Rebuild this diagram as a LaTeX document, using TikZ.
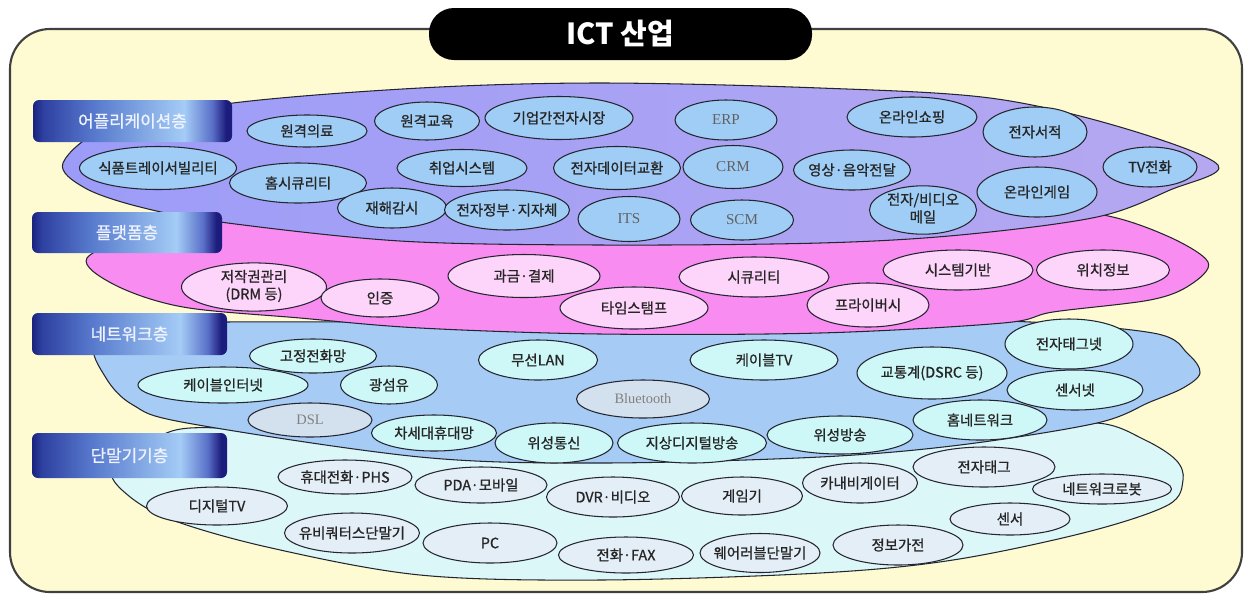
\documentclass[tikz,border=0pt]{standalone}
\usepackage{fontspec}
\setmainfont{Noto Sans CJK KR}
\newfontfamily\krb{Noto Sans CJK KR}[FakeBold=0.9]
\newfontfamily\serifx{Liberation Serif}
\usetikzlibrary{shapes.geometric}
\definecolor{framefill}{HTML}{FEFBD3}
\definecolor{frameline}{HTML}{404040}
\definecolor{appL}{HTML}{9C9CF8}
\definecolor{appR}{HTML}{B6A8F0}
\definecolor{platcol}{HTML}{F98CF1}
\definecolor{netcol}{HTML}{A6CBF4}
\definecolor{termcol}{HTML}{DBF7F8}
\definecolor{appell}{HTML}{A0CDF6}
\definecolor{platell}{HTML}{FDD4FA}
\definecolor{netell}{HTML}{CDF8F7}
\definecolor{grayell}{HTML}{D3E0EE}
\definecolor{termell}{HTML}{E3EEF7}
\definecolor{edgecol}{HTML}{252530}
\definecolor{lbA}{HTML}{1A237E}
\definecolor{lbB}{HTML}{2E40A0}
\definecolor{lbC}{HTML}{5678CC}
\definecolor{lbD}{HTML}{A4CCF6}
\definecolor{lbE}{HTML}{5A70C8}
\definecolor{lbF}{HTML}{1C1C7C}
\definecolor{lbtext}{HTML}{EEF3FF}
\pgfdeclarehorizontalshading{labelshade}{100bp}{color(0bp)=(lbA); color(25bp)=(lbA); color(27.5bp)=(lbB); color(40bp)=(lbC); color(63bp)=(lbD); color(70bp)=(lbE); color(73.5bp)=(lbF); color(75bp)=(lbF); color(100bp)=(lbF)}
\newcommand\ellnode[6]{\node[#2, minimum width=#4*0.02cm, minimum height=#5*0.02cm] (#1) at #3 {\makebox[0pt]{#6}};}
\newcommand\twolines[2]{\begin{tabular}{@{}c@{}}#1\\[0.5pt]#2\end{tabular}}
\begin{document}
\begin{tikzpicture}[x=0.02cm,y=-0.02cm,
  layerline/.style={draw=edgecol, line width=0.6pt},
  ellbase/.style={ellipse, draw=edgecol, line width=0.6pt, inner sep=0pt, text=black!85,
    font=\krb\fontsize{8.2pt}{9pt}\selectfont},
  aell/.style={ellbase, fill=appell},
  pell/.style={ellbase, fill=platell},
  nell/.style={ellbase, fill=netell},
  gell/.style={ellbase, fill=grayell, text=black!50, font=\serifx\fontsize{8.2pt}{9pt}\selectfont},
  tell/.style={ellbase, fill=termell},
  labelbox/.style={shade, shading=labelshade, rounded corners=0.12cm, inner sep=0pt,
    text=lbtext, font=\krb\fontsize{9.6pt}{10pt}\selectfont},
]
\useasboundingbox (0,0) rectangle (1250,596);
% frame
\draw[draw=frameline, line width=1.2pt, fill=framefill, rounded corners=0.8cm] (10,29) rectangle (1242,592);
% terminal layer
\draw[layerline, fill=termcol]
  plot[smooth cycle, tension=0.55] coordinates {(113,468) (150,442) (190,428) (300,432) (500,440) (800,445) (1000,430) (1097,423) (1145,440) (1176,460) (1183,480) (1168,505) (1087,532) (953,560) (820,573) (600,580) (420,575) (267,547) (167,518) (122,490)};
% network layer
\draw[layerline, fill=netcol]
  plot[smooth cycle, tension=0.55] coordinates {(96,343) (160,324) (400,322) (800,324) (1003,321) (1153,333) (1188,354) (1200,373) (1183,388) (1150,402) (1097,423) (960,445) (820,457) (600,463) (420,457) (187,423) (133,405) (106,378)};
% platform layer
\draw[layerline, fill=platcol]
  plot[smooth cycle, tension=0.55] coordinates {(87,258) (150,232) (240,220) (500,225) (800,225) (1000,212) (1097,214) (1165,235) (1208,262) (1190,285) (1150,300) (1053,312) (1003,323) (820,333) (600,334) (420,328) (300,318) (183,307) (115,285)};
% application layer
\draw[layerline, left color=appL, right color=appR]
  plot[smooth cycle, tension=0.55] coordinates {(63,163) (110,127) (233,103) (420,88) (600,83) (820,88) (990,98) (1120,127) (1218,165) (1170,190) (1097,217) (960,235) (820,243) (600,245) (400,241) (220,222) (140,207) (85,188)};
% title
\node[fill=black, rounded corners=0.5cm, minimum width=383*0.02cm, minimum height=52*0.02cm, inner sep=0pt,
  text=white, font=\bfseries\fontsize{16.5pt}{18pt}\selectfont] (title) at (620.5,34) {ICT 산업};
% layer labels
\node[labelbox, minimum width=199*0.02cm, minimum height=42*0.02cm] (L1) at (132.5,121) {어플리케이션층};
\node[labelbox, minimum width=190*0.02cm, minimum height=41*0.02cm] (L2) at (127,232.5) {플랫폼층};
\node[labelbox, minimum width=195*0.02cm, minimum height=42*0.02cm] (L3) at (129.5,334) {네트워크층};
\node[labelbox, minimum width=195*0.02cm, minimum height=45*0.02cm] (L4) at (129.5,455.5) {단말기기층};
% application ellipses
\ellnode{a1}{aell}{(307,131)}{120}{32}{원격의료}
\ellnode{a2}{aell}{(427,121)}{105}{38}{원격교육}
\ellnode{a3}{aell}{(559,118)}{148}{43}{기업간전자시장}
\ellnode{a4}{aell}{(726,120)}{102}{40}{\serifx\fontsize{8.6pt}{9pt}\selectfont\color{black!62}ERP}
\ellnode{a5}{aell}{(912,117)}{130}{40}{온라인쇼핑}
\ellnode{a6}{aell}{(1035,132)}{104}{50}{전자서적}
\ellnode{a7}{aell}{(158,168)}{157}{43}{식품트레이서빌리티}
\ellnode{a8}{aell}{(298,183)}{137}{40}{홈시큐리티}
\ellnode{a9}{aell}{(462,168)}{130}{37}{취업시스템}
\ellnode{a10}{aell}{(617,168)}{127}{43}{전자데이터교환}
\ellnode{a11}{aell}{(733,167)}{100}{43}{\serifx\fontsize{8.6pt}{9pt}\selectfont\color{black!62}CRM}
\ellnode{a12}{aell}{(852,170)}{117}{40}{영상·음악전달}
\ellnode{a13}{aell}{(1150,167)}{94}{40}{TV전화}
\ellnode{a14}{aell}{(1037,192)}{120}{50}{온라인게임}
\ellnode{a15}{aell}{(392,208)}{109}{40}{재해감시}
\ellnode{a16}{aell}{(507,210)}{125}{40}{전자정부·지자체}
\ellnode{a17}{aell}{(629,219)}{102}{45}{\serifx\fontsize{8.6pt}{9pt}\selectfont\color{black!62}ITS}
\ellnode{a18}{aell}{(742,220)}{103}{40}{\serifx\fontsize{8.6pt}{9pt}\selectfont\color{black!62}SCM}
\ellnode{a19}{aell}{(923,210)}{107}{46}{\twolines{전자/비디오}{메일}}
% platform ellipses
\ellnode{p1}{pell}{(254,287)}{145}{42}{\twolines{저작권관리}{(DRM 등)}}
\ellnode{p2}{pell}{(380,298)}{118}{38}{인증}
\ellnode{p3}{pell}{(524,276)}{152}{43}{과금·결제}
\ellnode{p4}{pell}{(634,308)}{148}{42}{타임스탬프}
\ellnode{p5}{pell}{(754,277)}{150}{40}{시큐리티}
\ellnode{p6}{pell}{(868,305)}{122}{44}{프라이버시}
\ellnode{p7}{pell}{(958,270)}{150}{40}{시스템기반}
\ellnode{p8}{pell}{(1103,270)}{133}{40}{위치정보}
% network ellipses
\ellnode{n1}{nell}{(313,356)}{127}{34}{고정전화망}
\ellnode{n2}{nell}{(223,385)}{170}{36}{케이블인터넷}
\ellnode{n3}{nell}{(389,385)}{97}{38}{광섬유}
\ellnode{n4}{nell}{(538,360)}{119}{40}{무선LAN}
\ellnode{n5}{nell}{(764,360)}{148}{40}{케이블TV}
\ellnode{n7}{nell}{(1069,344)}{128}{50}{전자태그넷}
\ellnode{n6}{nell}{(932,373)}{150}{52}{교통계(DSRC 등)}
\ellnode{n8}{nell}{(1075,390)}{136}{40}{센서넷}
\ellnode{n9}{gell}{(310,420)}{124}{34}{DSL}
\ellnode{n10}{gell}{(643,399)}{133}{38}{Bluetooth}
\ellnode{n11}{nell}{(434,433)}{125}{36}{차세대휴대망}
\ellnode{n12}{nell}{(554,443)}{118}{40}{위성통신}
\ellnode{n13}{nell}{(692,443)}{149}{40}{지상디지털방송}
\ellnode{n14}{nell}{(840,435)}{146}{38}{위성방송}
\ellnode{n15}{nell}{(980,420)}{134}{40}{홈네트워크}
% terminal ellipses
\ellnode{t1}{tell}{(345,477)}{134}{34}{휴대전화·PHS}
\ellnode{t2}{tell}{(217,506)}{141}{38}{디지털TV}
\ellnode{t3}{tell}{(352,533)}{135}{40}{유비쿼터스단말기}
\ellnode{t4}{tell}{(481,485)}{132}{36}{PDA·모바일}
\ellnode{t5}{tell}{(613,497)}{133}{40}{DVR·비디오}
\ellnode{t6}{tell}{(742,496)}{121}{38}{게임기}
\ellnode{t7}{tell}{(860,483)}{115}{40}{카내비게이터}
\ellnode{t8}{tell}{(984,467)}{142}{40}{전자태그}
\ellnode{t9}{tell}{(1102,489)}{139}{30}{네트워크로봇}
\ellnode{t10}{tell}{(1010,519)}{120}{32}{센서}
\ellnode{t11}{tell}{(898,545)}{130}{40}{정보가전}
\ellnode{t12}{tell}{(490,543)}{134}{40}{PC}
\ellnode{t13}{tell}{(626,555)}{135}{36}{전화·FAX}
\ellnode{t14}{tell}{(760,553)}{120}{39}{웨어러블단말기}
\end{tikzpicture}
\end{document}
